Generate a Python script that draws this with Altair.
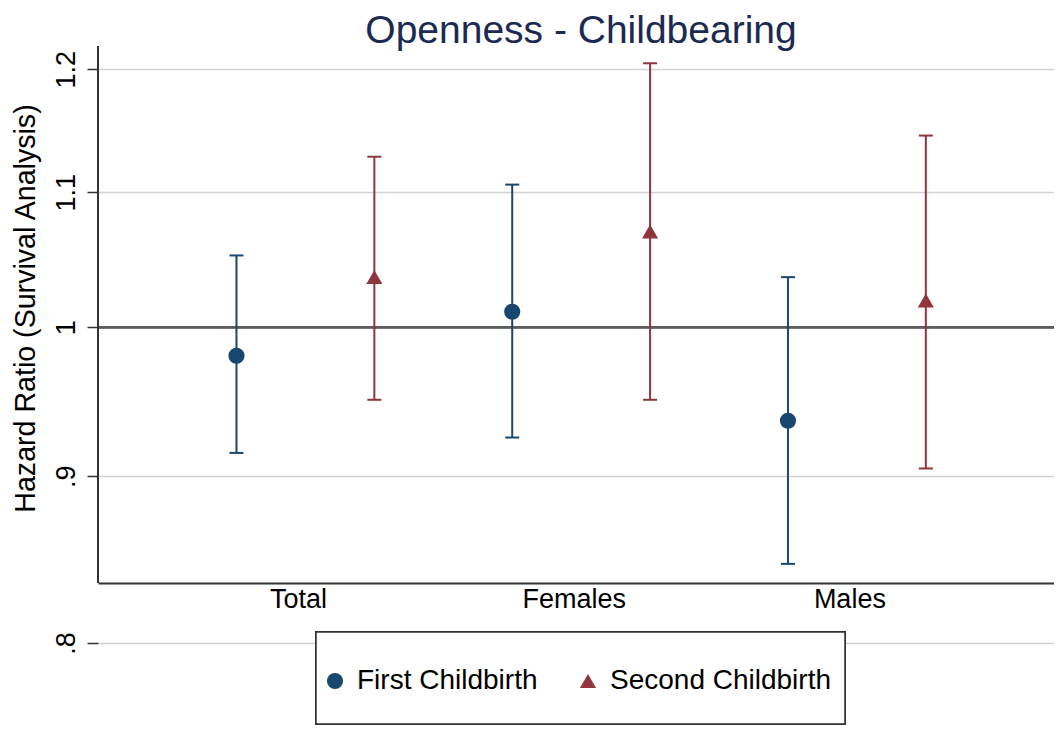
import altair as alt
import pandas as pd

# ---- data ----
categories = ["Total", "Females", "Males"]
series_names = ["First Childbirth", "Second Childbirth"]

hr_first = [0.980, 1.011, 0.936]
lo_first = [0.915, 0.925, 0.846]
hi_first = [1.052, 1.106, 1.036]

hr_second = [1.036, 1.070, 1.019]
lo_second = [0.950, 0.950, 0.905]
hi_second = [1.128, 1.205, 1.145]

y_ticks = [0.8, 0.9, 1.0, 1.1, 1.2]
y_tick_labels = [".8", ".9", "1", "1.1", "1.2"]

reference_value = 1.0
axis_floor = 0.8348  # where the plot region's x axis sits

rows = []
for i, c in enumerate(categories):
    rows.append(dict(group=c, series=series_names[0], hr=hr_first[i], lo=lo_first[i], hi=hi_first[i]))
    rows.append(dict(group=c, series=series_names[1], hr=hr_second[i], lo=lo_second[i], hi=hi_second[i]))
df = pd.DataFrame(rows)

FONT = "Liberation Sans"
NAVY = "#1a476f"
MAROON = "#90353b"
AXIS_COL = "#333333"

label_expr = " : ".join(
    f"abs(datum.value - {v}) < 1e-6 ? '{l}'" for v, l in zip(y_ticks, y_tick_labels)
) + " : ''"

x_enc = alt.X(
    "group:N",
    sort=categories,
    scale=alt.Scale(paddingInner=0, paddingOuter=0.2335, align=0.54),
    axis=alt.Axis(
        title=None, labelAngle=0, labelFontSize=27, labelFont=FONT, labelColor="black",
        labelPadding=24, labelBaseline="alphabetic", ticks=False, tickSize=0,
        domain=True, domainColor=AXIS_COL, domainWidth=2, offset=-60, labelOffset=-7,
        grid=False,
    ),
)
xoff = alt.XOffset("series:N", sort=series_names, scale=alt.Scale(paddingInner=0, paddingOuter=0))
y_scale = alt.Scale(type="log", domain=[0.8, 1.2198], nice=False, zero=False)
y_axis = alt.Axis(
    values=y_ticks, labelExpr=label_expr, labelAngle=270, labelAlign="center",
    labelBaseline="alphabetic", labelFontSize=27, labelFont=FONT, labelColor="black",
    labelPadding=13, tickSize=11, tickColor=AXIS_COL, tickWidth=1.5, domain=False,
    grid=True, gridColor="#d2d2d2", gridWidth=1.5,
    title="Hazard Ratio (Survival Analysis)", titleFontSize=28.6, titleFont=FONT,
    titleFontWeight="normal", titleColor="black", titleAngle=270, titleAlign="center",
    titleBaseline="alphabetic", titleX=-64, titleY=262, titleLimit=800,
)
color_scale = alt.Scale(domain=series_names, range=[NAVY, MAROON])
shape_scale = alt.Scale(domain=series_names, range=["circle", "triangle-up"])

legend = alt.Legend(
    orient="none", legendX=223, legendY=621, direction="horizontal", title=None,
    labelFontSize=28, labelFont=FONT, labelColor="black", symbolSize=260,
    symbolStrokeWidth=0, symbolOpacity=1, padding=0, columnPadding=36, labelOffset=8,
    labelLimit=400, zindex=2,
)

base = alt.Chart(df)

frame = alt.Chart(df).mark_rect(fill="white", stroke=AXIS_COL, strokeWidth=1.5).encode(
    x=alt.value(218), x2=alt.value(747), y=alt.value(586), y2=alt.value(678)
)

y_line = alt.Chart(df).mark_rule(color=AXIS_COL, strokeWidth=2).encode(
    x=alt.value(0), y=alt.YDatum(axis_floor, scale=y_scale, axis=y_axis), y2=alt.value(0)
)

ref_line = alt.Chart(df).mark_rule(color="#5e5e5e", strokeWidth=2).encode(
    y=alt.YDatum(reference_value, scale=y_scale, axis=y_axis)
)

bars = base.mark_rule(strokeWidth=2, opacity=1).encode(
    x=x_enc, xOffset=xoff,
    y=alt.Y("lo:Q", scale=y_scale, axis=y_axis),
    y2="hi:Q",
    stroke=alt.Stroke("series:N", scale=color_scale, legend=None),
)

caps_lo = base.mark_tick(size=14, thickness=2, opacity=1).encode(
    x=x_enc, xOffset=xoff,
    y=alt.Y("lo:Q", scale=y_scale, axis=y_axis),
    fill=alt.Fill("series:N", scale=color_scale, legend=None),
)
caps_hi = base.mark_tick(size=14, thickness=2, opacity=1).encode(
    x=x_enc, xOffset=xoff,
    y=alt.Y("hi:Q", scale=y_scale, axis=y_axis),
    fill=alt.Fill("series:N", scale=color_scale, legend=None),
)

points = base.mark_point(filled=True, opacity=1, strokeWidth=0, size=260).encode(
    x=x_enc, xOffset=xoff,
    y=alt.Y("hr:Q", scale=y_scale, axis=y_axis),
    color=alt.Color("series:N", scale=color_scale, legend=legend),
    shape=alt.Shape("series:N", scale=shape_scale, legend=legend),
)

chart = alt.layer(points, frame, ref_line, bars, caps_lo, caps_hi, y_line).properties(
    width=956,
    height=597,
    padding={"left": 90, "top": 38, "right": 0, "bottom": 83},
    autosize=alt.AutoSizeParams(type="none"),
    title=alt.TitleParams(
        text="Openness - Childbearing", fontSize=39, font=FONT, fontWeight="normal",
        color="#1b2a52", anchor="middle", offset=-6, dx=5,
    ),
    background="white",
).configure_view(stroke=None)

chart.save("out.html", embed_options={"renderer": "svg", "actions": False})
